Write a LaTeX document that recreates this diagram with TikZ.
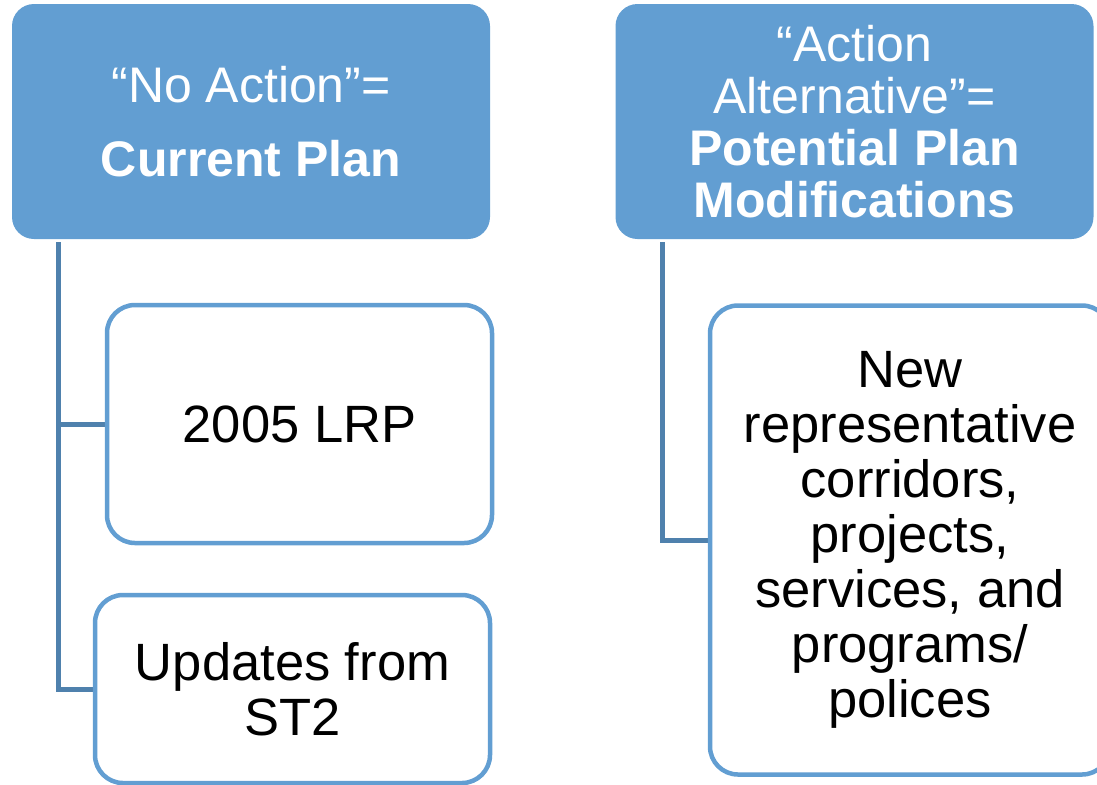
\documentclass[tikz,border=0pt]{standalone}
\usepackage{fontspec}
\setmainfont{Liberation Sans}
\usetikzlibrary{positioning,backgrounds}
\definecolor{hdrblue}{RGB}{98,158,210}
\definecolor{linkblue}{RGB}{79,129,173}
\tikzset{
  header/.style={rectangle,rounded corners=11pt,fill=hdrblue,text=white,
                 minimum width=239pt,minimum height=117.5pt,inner sep=0pt,
                 align=center,font=\fontsize{25}{26}\selectfont},
  item/.style  ={rectangle,rounded corners=14pt,draw=hdrblue,line width=2.25pt,
                 fill=white,inner sep=0pt,align=center,
                 font=\fontsize{26.25}{27.5}\selectfont},
  link/.style  ={draw=linkblue,line width=2.5pt}
}

\begin{document}
\begin{tikzpicture}[x=0.5pt,y=-0.5pt]
  \useasboundingbox (0,0) rectangle (1097,784);
  \clip (0,0) rectangle (1097,784);

  % Headers
  \node (noaction) [header] at (251,121.5)
        {“No Action”=\\[11pt]\textbf{Current Plan}};
  \node (action)   [header] at (854.5,121.5)
        {“Action\\Alternative”=\\\textbf{Potential Plan}\\\textbf{Modifications}};

  % Items under each header
  \node (lrp)  [item,minimum width=192.5pt,minimum height=119pt] at (299.5,424)
        {2005 LRP};
  \node (st2)  [item,minimum width=197.5pt,minimum height=94pt]  at (292.5,689)
        {Updates from\\ST2};
  \node (newcorr) [item,minimum width=200pt,minimum height=234.5pt] at (910,540)
        {New\\representative\\corridors,\\projects,\\services, and\\programs/\\polices};

  % Links
  \coordinate (lspine) at (58,242);
  \coordinate (rspine) at (662,242);
  \begin{scope}[on background layer]
    \draw[link] (lspine) |- (lrp.west);
    \draw[link] (lspine) |- (st2.west);
    \draw[link] (rspine) |- (newcorr.west);
  \end{scope}
\end{tikzpicture}
\end{document}
